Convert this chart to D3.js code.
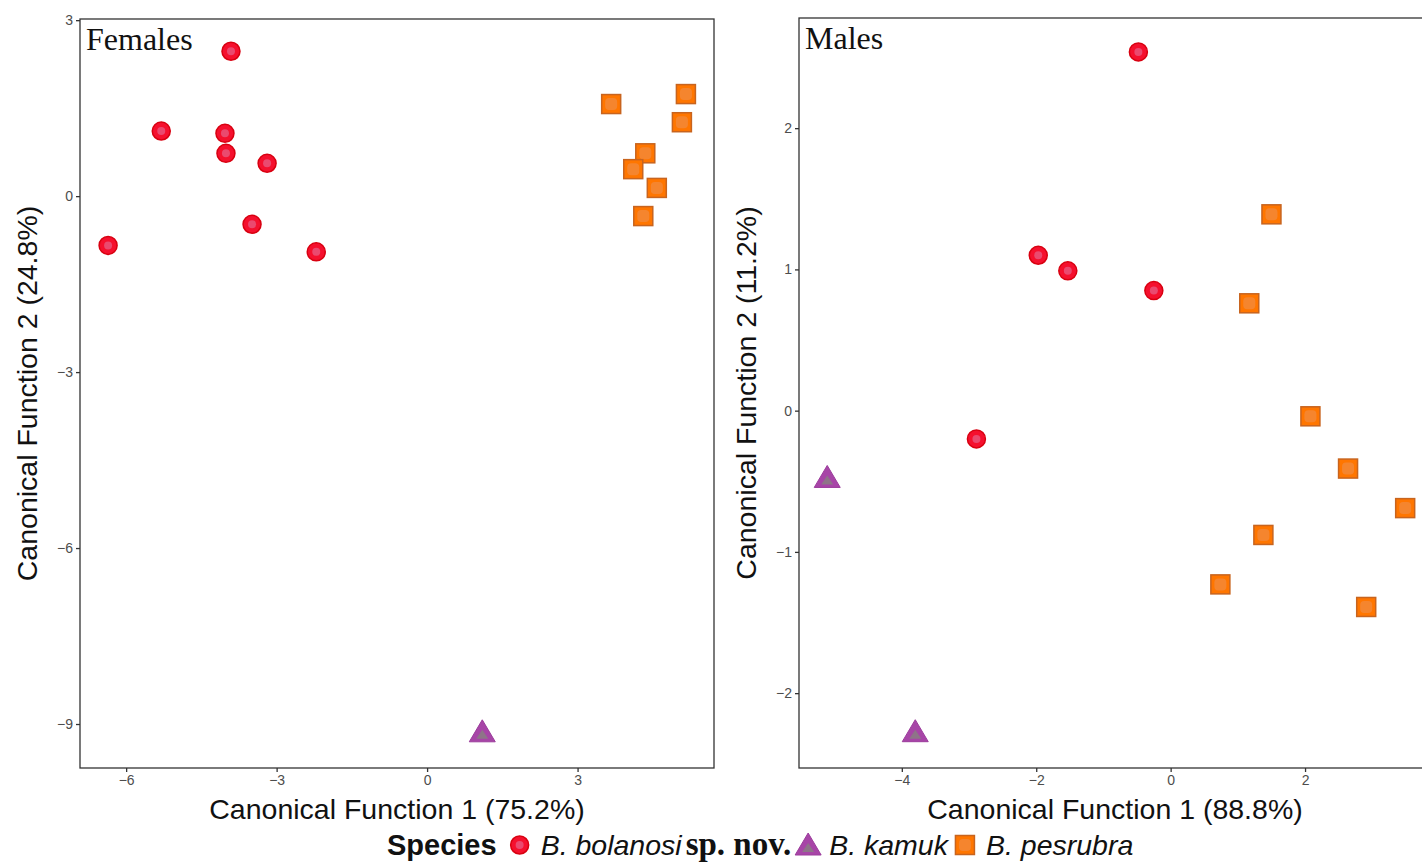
<!DOCTYPE html>
<html><head><meta charset="utf-8">
<script src="https://cdn.jsdelivr.net/npm/d3@7"></script>
<style>body{margin:0;background:#fff}svg{display:block}</style>
</head><body>
<svg id="c" width="1422" height="863"></svg>
<script>
// ---- data ----
const species = ["B. bolanosi", "B. kamuk", "B. pesrubra"];
const femBolanosiCF1 = [-3.91, -5.30, -4.03, -4.01, -3.19, -3.49, -2.21, -6.36];
const femBolanosiCF2 = [2.47, 1.11, 1.07, 0.73, 0.56, -0.48, -0.95, -0.84];
const femKamukCF1 = [1.10];
const femKamukCF2 = [-9.15];
const femPesrubraCF1 = [3.67, 5.16, 5.08, 4.35, 4.11, 4.58, 4.31];
const femPesrubraCF2 = [1.57, 1.74, 1.26, 0.73, 0.46, 0.14, -0.34];
const maleBolanosiCF1 = [-0.48, -1.97, -1.53, -0.25, -2.89];
const maleBolanosiCF2 = [2.54, 1.10, 0.99, 0.85, -0.20];
const maleKamukCF1 = [-5.11, -3.80];
const maleKamukCF2 = [-0.48, -2.28];
const malePesrubraCF1 = [1.50, 1.17, 2.08, 2.64, 3.49, 1.38, 0.74, 2.91];
const malePesrubraCF2 = [1.39, 0.76, -0.04, -0.41, -0.69, -0.88, -1.23, -1.39];
const femTicksX = [-6, -3, 0, 3];
const femTicksY = [-9, -6, -3, 0, 3];
const maleTicksX = [-4, -2, 0, 2];
const maleTicksY = [-2, -1, 0, 1, 2];

const svg = d3.select("#c");
const sans = "'Liberation Sans', Arial, Helvetica, sans-serif";
const serif = "'Liberation Serif', 'Times New Roman', serif";

function drawMarker(g, sp, x, y) {
  if (sp === 0) {
    g.append("circle").attr("cx", x).attr("cy", y).attr("r", 9)
      .attr("fill", "#f5102e").attr("stroke", "#d80010").attr("stroke-width", 1.5);
    g.append("circle").attr("cx", x).attr("cy", y).attr("r", 4)
      .attr("fill", "#e8557a").attr("opacity", 0.85);
  } else if (sp === 1) {
    const h = 22, w = 26;
    g.append("path").attr("d", `M${x},${y - h/2 - 2}L${x + w/2},${y + h/2 - 2}L${x - w/2},${y + h/2 - 2}Z`)
      .attr("fill", "#a745a7").attr("stroke", "#9c3c9c").attr("stroke-width", 1);
    g.append("path").attr("d", `M${x},${y - 3}L${x + 6},${y + 6}L${x - 6},${y + 6}Z`)
      .attr("fill", "#8e7488");
  } else {
    const s = 19;
    g.append("rect").attr("x", x - s/2).attr("y", y - s/2).attr("width", s).attr("height", s)
      .attr("fill", "#ff7600").attr("stroke", "#c8641e").attr("stroke-width", 1.5);
    g.append("rect").attr("x", x - 6).attr("y", y - 6).attr("width", 12).attr("height", 12)
      .attr("rx", 4).attr("fill", "#f28a3a").attr("opacity", 0.8);
  }
}

function panel(opt) {
  const x = d3.scaleLinear().domain(opt.xd).range([opt.x0, opt.x1]);
  const y = d3.scaleLinear().domain(opt.yd).range([opt.y1, opt.y0]);
  const g = svg.append("g");
  g.append("rect").attr("x", opt.x0).attr("y", opt.y0)
    .attr("width", opt.x1 - opt.x0).attr("height", opt.y1 - opt.y0)
    .attr("fill", "none").attr("stroke", "#333").attr("stroke-width", 1.3);
  const ax = g.append("g").attr("transform", `translate(0,${opt.y1})`)
    .call(d3.axisBottom(x).tickValues(opt.tx).tickSize(4).tickPadding(3).tickFormat(d => d < 0 ? "\u2212" + Math.abs(d) : d));
  const ay = g.append("g").attr("transform", `translate(${opt.x0},0)`)
    .call(d3.axisLeft(y).tickValues(opt.ty).tickSize(4).tickPadding(3).tickFormat(d => d < 0 ? "\u2212" + Math.abs(d) : d));
  [ax, ay].forEach(a => {
    a.select(".domain").remove();
    a.selectAll(".tick line").attr("stroke", "#333").attr("stroke-width", 1.3);
    a.selectAll(".tick text").attr("fill", "#4d4d4d").style("font-family", sans).style("font-size", "14px");
  });
  g.append("text").attr("x", opt.x0 + 6).attr("y", opt.y0 + 31)
    .style("font-family", serif).style("font-size", "32px").attr("fill", "#111").text(opt.title);
  g.append("text").attr("x", opt.xtc).attr("y", 819).attr("text-anchor", "middle")
    .style("font-family", sans).style("font-size", "28.5px").attr("fill", "#111").text(opt.xt);
  g.append("text").attr("transform", `translate(${opt.ytx},${(opt.y0 + opt.y1) / 2}) rotate(-90)`)
    .attr("text-anchor", "middle")
    .style("font-family", sans).style("font-size", "28.5px").attr("fill", "#111").text(opt.yt);
  const pg = g.append("g");
  opt.sets.forEach(([sp, xs, ys]) => {
    xs.forEach((v, i) => drawMarker(pg, sp, x(v), y(ys[i])));
  });
}

panel({
  x0: 80, x1: 714, y0: 19, y1: 768,
  xd: [-6.92, 5.72], yd: [-9.75, 3.02],
  tx: femTicksX, ty: femTicksY, title: "Females",
  xt: "Canonical Function 1 (75.2%)", yt: "Canonical Function 2 (24.8%)",
  xtc: 397, ytx: 37,
  sets: [[0, femBolanosiCF1, femBolanosiCF2], [1, femKamukCF1, femKamukCF2], [2, femPesrubraCF1, femPesrubraCF2]]
});
panel({
  x0: 799, x1: 1424, y0: 18, y1: 768,
  xd: [-5.53, 3.77], yd: [-2.53, 2.78],
  tx: maleTicksX, ty: maleTicksY, title: "Males",
  xt: "Canonical Function 1 (88.8%)", yt: "Canonical Function 2 (11.2%)",
  xtc: 1115, ytx: 756,
  sets: [[0, maleBolanosiCF1, maleBolanosiCF2], [1, maleKamukCF1, maleKamukCF2], [2, malePesrubraCF1, malePesrubraCF2]]
});

// ---- legend ----
const lg = svg.append("g");
let cx = 387; const by = 855;
const t0 = lg.append("text").attr("x", cx).attr("y", by).style("font-family", sans)
  .style("font-size", "29px").style("font-weight", "bold").attr("fill", "#111").text("Species");
cx += t0.node().getComputedTextLength() + 23;
function item(sp, label, extra) {
  drawMarker(lg, sp, cx, by - 10 + (sp === 1 ? 1 : 0));
  cx += 21;
  const t = lg.append("text").attr("x", cx).attr("y", by).style("font-family", sans)
    .style("font-size", "28.5px").style("font-style", "italic").attr("fill", "#111").text(label);
  cx += t.node().getComputedTextLength();
  if (extra) {
    cx += 4;
    const e = lg.append("text").attr("x", cx).attr("y", by).style("font-family", serif)
      .style("font-size", "33px").style("font-weight", "bold").attr("fill", "#111").text(extra);
    cx += e.node().getComputedTextLength();
  }
  cx += 17;
}
item(0, species[0], "sp. nov.");
item(1, species[1]);
item(2, species[2]);
</script>
</body></html>
